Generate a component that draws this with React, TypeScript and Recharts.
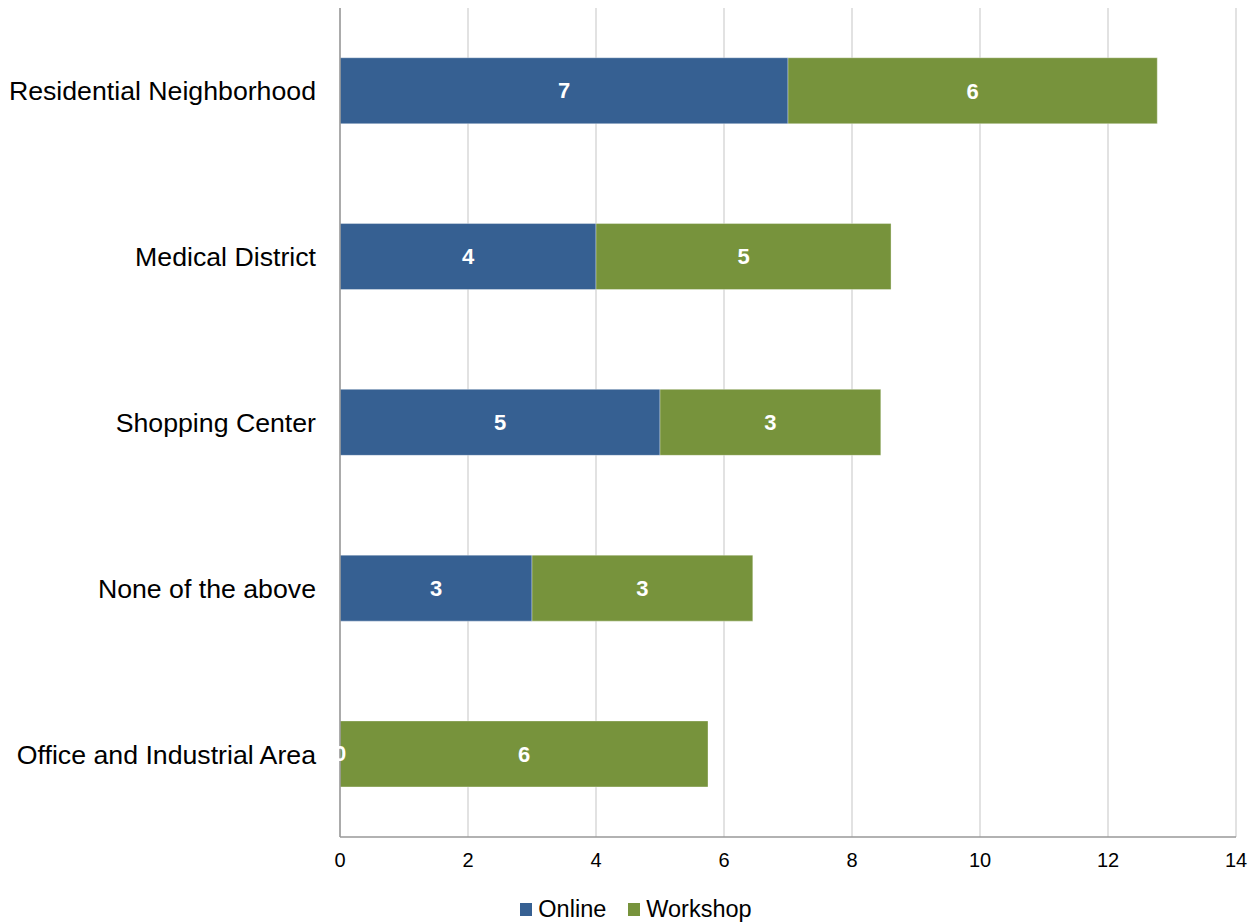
import { BarChart, Bar, XAxis, YAxis, CartesianGrid, Legend, LabelList } from 'recharts';

const categories = [
  'Residential Neighborhood',
  'Medical District',
  'Shopping Center',
  'None of the above',
  'Office and Industrial Area',
];
const online = [7, 4, 5, 3, 0];
const workshop = [5.77, 4.61, 3.45, 3.45, 5.75];
const xTicks = [0, 2, 4, 6, 8, 10, 12, 14];

const BLUE = '#366092';
const GREEN = '#77933C';
const FONT = '"Liberation Sans", Arial, sans-serif';

const data = categories.map((name, i) => ({
  name,
  online: online[i],
  workshop: workshop[i],
}));

const series = [
  { key: 'online', label: 'Online', color: BLUE },
  { key: 'workshop', label: 'Workshop', color: GREEN },
];

function LegendBox() {
  return (
    <div
      style={{
        width: 1251,
        height: 42,
        display: 'flex',
        justifyContent: 'center',
        alignItems: 'flex-end',
        paddingLeft: 21,
        boxSizing: 'border-box',
        fontFamily: FONT,
        fontSize: 23.5,
        lineHeight: '27px',
        color: '#000',
      }}
    >
      {series.map((s, i) => (
        <div key={s.key} style={{ display: 'flex', alignItems: 'center', marginLeft: i ? 22 : 0 }}>
          <span style={{ width: 12, height: 13, background: s.color, display: 'inline-block', marginRight: 6 }} />
          <span>{s.label}</span>
        </div>
      ))}
    </div>
  );
}

const labelStyle = { fontSize: 22, fontWeight: 'bold' as const, fontFamily: FONT };

// online labels are drawn from the workshop bar so they sit above every bar (the 0 shows on top of green)
function OnlineLabel(props: any) {
  const { x, y, width, height, index } = props;
  const w = workshop[index];
  const scale = w ? Number(width) / w : 0;
  const cx = Number(x) - (online[index] * scale) / 2;
  return (
    <text x={cx} y={Number(y) + Number(height) / 2} fill="#fff" textAnchor="middle" dominantBaseline="central" style={labelStyle}>
      {Math.round(online[index])}
    </text>
  );
}

export default function App() {
  const fmt = (v: any) => Math.round(Number(v));
  return (
    <div style={{ position: 'absolute', left: 0, top: 0, fontFamily: FONT }}>
      <BarChart
        width={1251}
        height={924}
        data={data}
        layout="vertical"
        margin={{ top: 8, right: 15, left: 0, bottom: 0 }}
        barCategoryGap="30%"
      >
        <CartesianGrid horizontal={false} stroke="#d9d9d9" strokeWidth={1.5} />
        <XAxis
          type="number"
          domain={[0, 14]}
          ticks={xTicks}
          interval={0}
          height={45}
          tickLine={false}
          tickMargin={10}
          stroke="#999999"
          strokeWidth={1.5}
          tick={{ fontSize: 20, fill: '#000' }}
        />
        <YAxis
          type="category"
          dataKey="name"
          width={340}
          tickLine={false}
          tickMargin={18}
          stroke="#999999"
          strokeWidth={1.5}
          tick={{ fontSize: 26.7, fill: '#000' }}
        />
        <Legend verticalAlign="bottom" content={<LegendBox />} wrapperStyle={{ left: 0, width: 1251, bottom: 1 }} />
        <Bar dataKey="online" name="Online" stackId="a" fill={BLUE} stroke="#ffffff" strokeOpacity={0.35} isAnimationActive={false} />
        <Bar dataKey="workshop" name="Workshop" stackId="a" fill={GREEN} stroke="#ffffff" strokeOpacity={0.35} isAnimationActive={false}>
          <LabelList dataKey="workshop" position="center" formatter={fmt} fill="#ffffff" style={labelStyle} />
          <LabelList dataKey="online" content={<OnlineLabel />} />
        </Bar>
      </BarChart>
    </div>
  );
}
